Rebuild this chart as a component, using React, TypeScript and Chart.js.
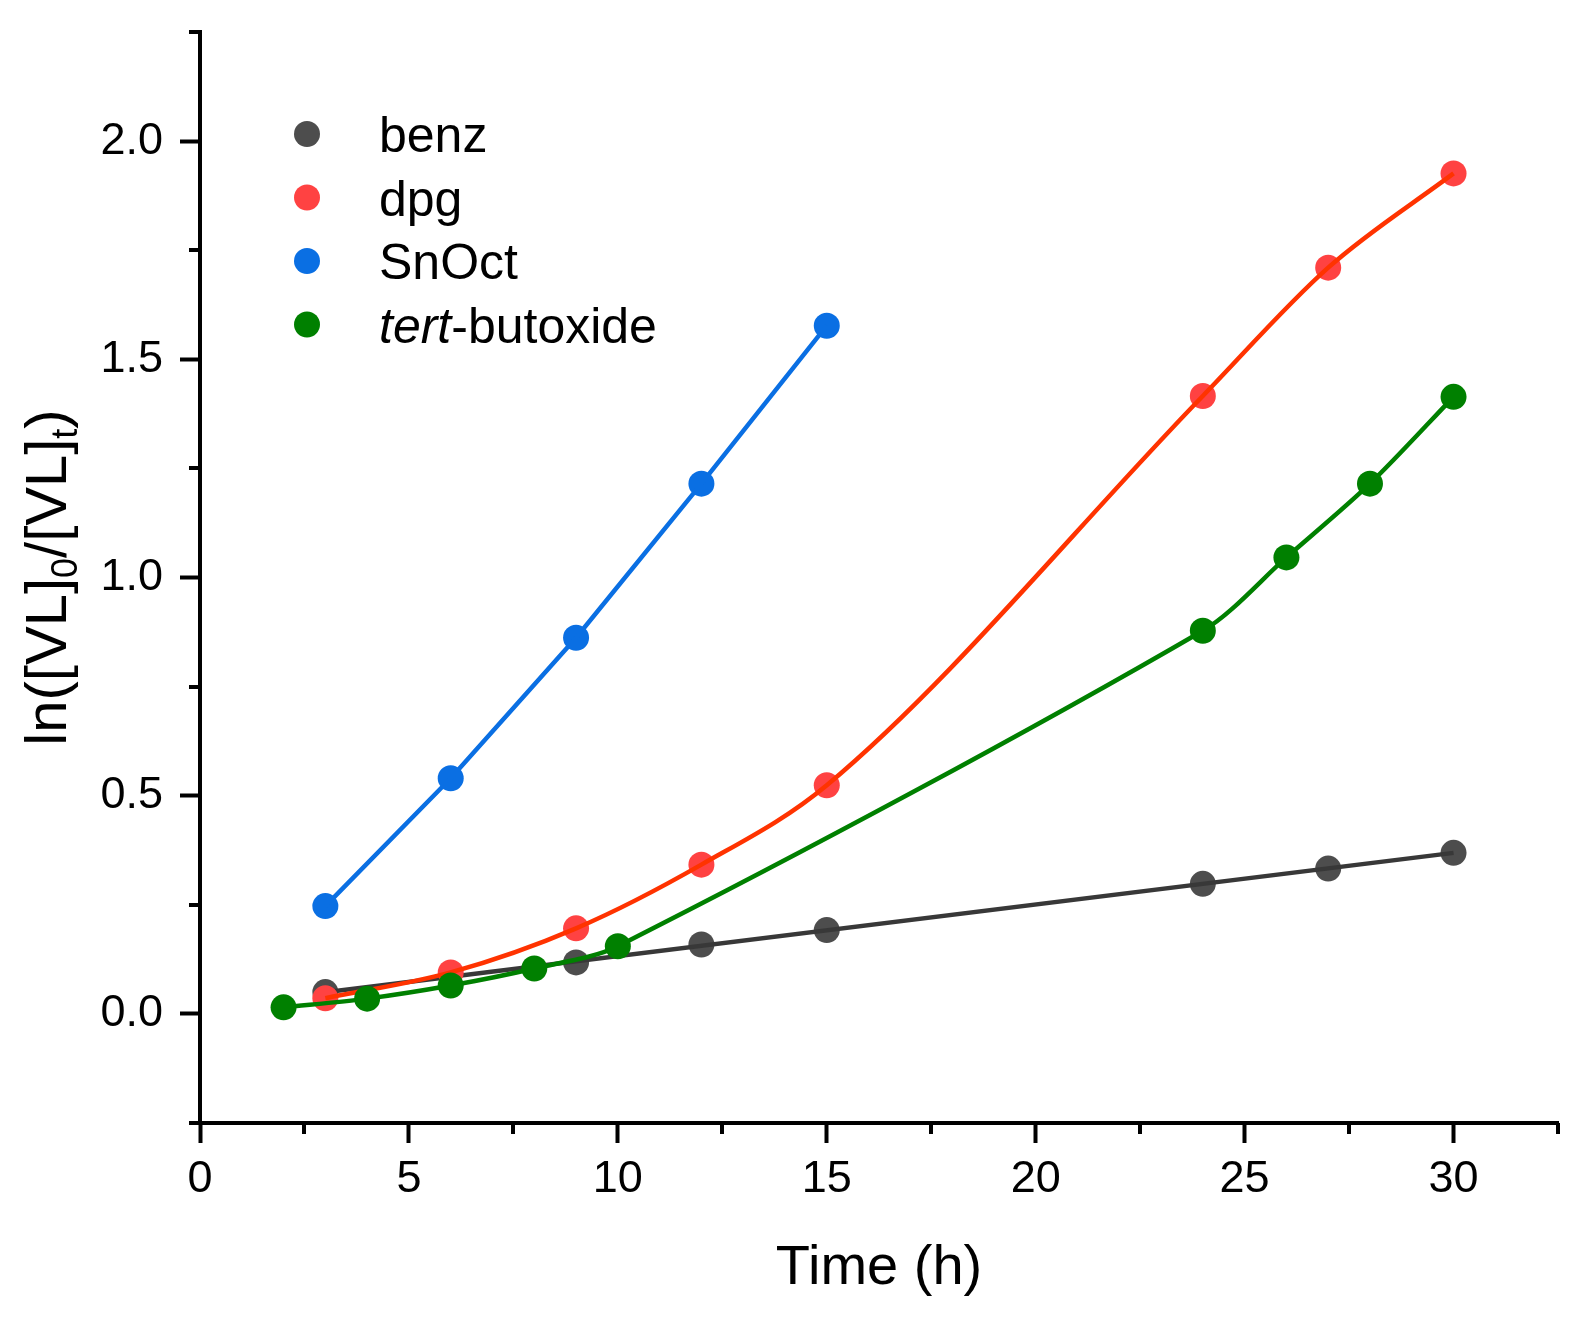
import { useEffect, useRef } from "react";
import { Chart, registerables } from "chart.js";

Chart.register(...registerables);

// Data (time in h, ln([VL]0/[VL]t))
const seriesNames = ["benz", "dpg", "SnOct", "tert-butoxide"];
const benzTime = [3, 9, 12, 15, 24, 27, 30];
const benzValues = [0.05, 0.118, 0.159, 0.192, 0.298, 0.333, 0.369];
const dpgTime = [3, 6, 9, 12, 15, 24, 27, 30];
const dpgValues = [0.036, 0.095, 0.196, 0.342, 0.524, 1.416, 1.71, 1.926];
const snOctTime = [3, 6, 9, 12, 15];
const snOctValues = [0.247, 0.54, 0.862, 1.215, 1.577];
const tertTime = [2, 4, 6, 8, 10, 24, 26, 28, 30];
const tertValues = [0.015, 0.035, 0.065, 0.104, 0.155, 0.878, 1.046, 1.215, 1.414];

const xMajorTicks = [0, 5, 10, 15, 20, 25, 30];
const xMinorTicks = [2.5, 7.5, 12.5, 17.5, 22.5, 27.5, 32.5];
const yMajorTicks = [0, 0.5, 1, 1.5, 2];
const yMinorTicks = [-0.25, 0.25, 0.75, 1.25, 1.75, 2.25];

const pointColors = ["#4d4d4d", "#ff4242", "#0a6fe3", "#008000"];
const lineColors = ["#383838", "#ff3300", "#0a6fe3", "#008000"];

const FONT = "'Liberation Sans', Arial, sans-serif";
const AXIS_W = 4;

const toPoints = (xs: number[], ys: number[]) => xs.map((x, i) => ({ x, y: ys[i] }));

// least squares straight line, used for the benz trend line
function linearFit(xs: number[], ys: number[]) {
  const n = xs.length;
  const mx = xs.reduce((a, b) => a + b, 0) / n;
  const my = ys.reduce((a, b) => a + b, 0) / n;
  let sxy = 0;
  let sxx = 0;
  xs.forEach((x, i) => {
    sxy += (x - mx) * (ys[i] - my);
    sxx += (x - mx) * (x - mx);
  });
  const slope = sxy / sxx;
  const icpt = my - slope * mx;
  const ends = [xs[0], xs[n - 1]];
  return ends.map((x) => ({ x, y: icpt + slope * x }));
}

const decorations = {
  id: "decorations",
  afterDraw(chart: any) {
    const { ctx, chartArea } = chart;
    const xs = chart.scales.x;
    const ys = chart.scales.y;
    ctx.save();

    // minor ticks
    ctx.strokeStyle = "#000";
    ctx.lineWidth = AXIS_W;
    ctx.beginPath();
    xMinorTicks.forEach((v) => {
      const px = Math.round(xs.getPixelForValue(v));
      ctx.moveTo(px, chartArea.bottom);
      ctx.lineTo(px, chartArea.bottom + 11);
    });
    yMinorTicks.forEach((v) => {
      const py = Math.round(ys.getPixelForValue(v));
      ctx.moveTo(chartArea.left, py);
      ctx.lineTo(chartArea.left - 11, py);
    });
    ctx.stroke();

    // x title
    ctx.fillStyle = "#000";
    ctx.font = `56px ${FONT}`;
    ctx.textAlign = "center";
    ctx.textBaseline = "alphabetic";
    ctx.fillText("Time (h)", (chartArea.left + chartArea.right) / 2, 1284);

    // y title with subscripts
    const parts: [string, boolean][] = [
      ["ln([VL]", false],
      ["0", true],
      ["/[VL]", false],
      ["t", true],
      [")", false],
    ];
    const big = `58px ${FONT}`;
    const small = `36px ${FONT}`;
    let total = 0;
    parts.forEach(([t, sub]) => {
      ctx.font = sub ? small : big;
      total += ctx.measureText(t).width;
    });
    ctx.translate(66, (chartArea.top + chartArea.bottom) / 2);
    ctx.rotate(-Math.PI / 2);
    ctx.textAlign = "left";
    let cx = -total / 2;
    parts.forEach(([t, sub]) => {
      ctx.font = sub ? small : big;
      ctx.fillText(t, cx, sub ? 11 : 0);
      cx += ctx.measureText(t).width;
    });
    ctx.setTransform(1, 0, 0, 1, 0, 0);
    ctx.restore();

    // legend
    ctx.save();
    ctx.textBaseline = "alphabetic";
    ctx.textAlign = "left";
    seriesNames.forEach((name, i) => {
      const cy = 134 + i * 63.5;
      ctx.fillStyle = pointColors[i];
      ctx.beginPath();
      ctx.arc(307, cy, 13, 0, Math.PI * 2);
      ctx.fill();
      ctx.fillStyle = "#000";
      let tx = 379;
      if (name.startsWith("tert")) {
        ctx.font = `italic 50px ${FONT}`;
        ctx.fillText("tert", tx, cy + 18);
        tx += ctx.measureText("tert").width;
        ctx.font = `50px ${FONT}`;
        ctx.fillText(name.slice(4), tx, cy + 18);
      } else {
        ctx.font = `50px ${FONT}`;
        ctx.fillText(name, tx, cy + 18);
      }
    });
    ctx.restore();
  },
};

export default function App() {
  const canvasRef = useRef<HTMLCanvasElement | null>(null);

  useEffect(() => {
    document.body.style.margin = "0";
    if (!canvasRef.current) return;

    const pointSet = (i: number, data: any[], order: number) => ({
      label: seriesNames[i],
      data,
      showLine: false,
      pointRadius: 13,
      pointHoverRadius: 13,
      pointBorderWidth: 0,
      pointBackgroundColor: pointColors[i],
      borderColor: pointColors[i],
      order,
    });
    const lineSet = (i: number, data: any[], order: number, mode: string, tension = 0) => ({
      label: seriesNames[i] + " line",
      data,
      pointRadius: 0,
      pointHoverRadius: 0,
      borderWidth: 4.5,
      borderColor: lineColors[i],
      fill: false,
      tension,
      cubicInterpolationMode: mode,
      order,
    });

    const chart = new Chart(canvasRef.current, {
      type: "line",
      data: {
        datasets: [
          pointSet(0, toPoints(benzTime, benzValues), 8),
          lineSet(0, linearFit(benzTime, benzValues), 7, "default"),
          pointSet(1, toPoints(dpgTime, dpgValues), 6),
          lineSet(1, toPoints(dpgTime, dpgValues), 5, "monotone"),
          pointSet(2, toPoints(snOctTime, snOctValues), 4),
          lineSet(2, toPoints(snOctTime, snOctValues), 3, "default"),
          pointSet(3, toPoints(tertTime, tertValues), 2),
          lineSet(3, toPoints(tertTime, tertValues), 1, "default", 0.3),
        ] as any,
      },
      options: {
        animation: false,
        responsive: true,
        maintainAspectRatio: false,
        events: [],
        layout: { padding: { top: 32, right: 23, left: 0, bottom: 0 } },
        plugins: {
          legend: { display: false },
          tooltip: { enabled: false },
        },
        scales: {
          x: {
            type: "linear",
            min: 0,
            max: 32.5,
            afterBuildTicks: (s: any) => {
              s.ticks = xMajorTicks.map((value) => ({ value }));
            },
            afterFit: (s: any) => {
              s.height = 195;
            },
            border: { display: true, color: "#000", width: AXIS_W },
            grid: {
              drawOnChartArea: false,
              drawTicks: true,
              tickLength: 20,
              tickWidth: AXIS_W,
              tickColor: "#000",
            },
            ticks: {
              autoSkip: false,
              maxRotation: 0,
              padding: 10,
              color: "#000",
              font: { family: FONT, size: 45 },
              callback: (v: any) => String(v),
            },
          },
          y: {
            type: "linear",
            min: -0.25,
            max: 2.25,
            afterBuildTicks: (s: any) => {
              s.ticks = yMajorTicks.map((value) => ({ value }));
            },
            afterFit: (s: any) => {
              s.width = 200;
              s.paddingTop = 0;
              s.paddingBottom = 0;
            },
            border: { display: true, color: "#000", width: AXIS_W },
            grid: {
              drawOnChartArea: false,
              drawTicks: true,
              tickLength: 20,
              tickWidth: AXIS_W,
              tickColor: "#000",
            },
            ticks: {
              autoSkip: false,
              padding: 17,
              color: "#000",
              font: { family: FONT, size: 45 },
              callback: (v: any) => Number(v).toFixed(1),
            },
          },
        },
      },
      plugins: [decorations],
    });

    return () => {
      chart.destroy();
    };
  }, []);

  return (
    <div style={{ position: "relative", width: 1581, height: 1318, background: "#fff" }}>
      <canvas ref={canvasRef}></canvas>
    </div>
  );
}
